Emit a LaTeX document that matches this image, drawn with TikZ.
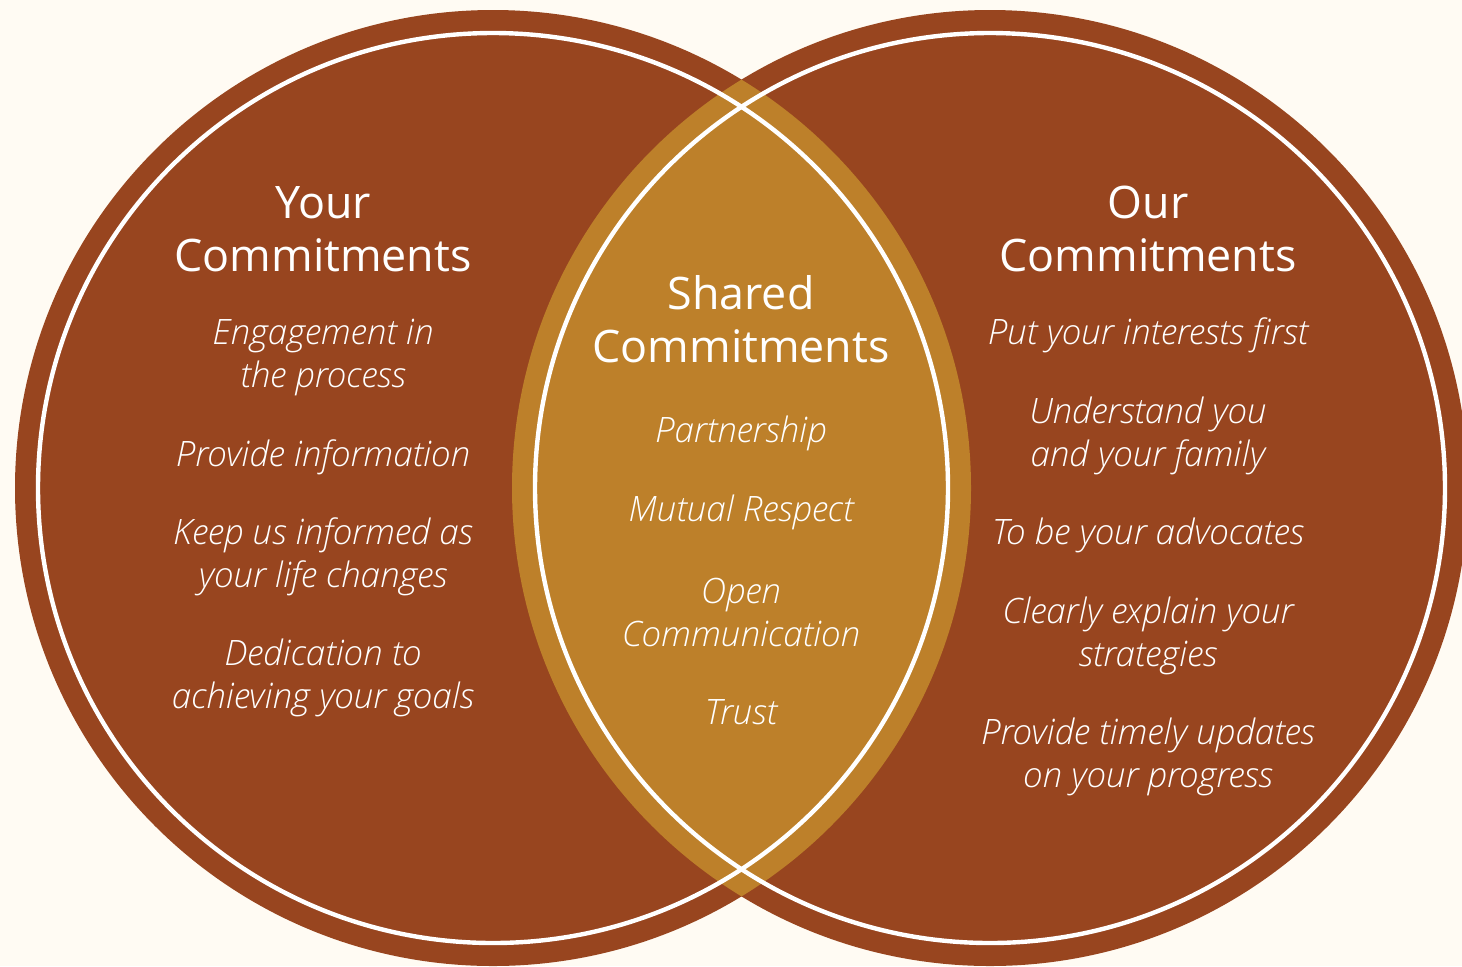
\documentclass[tikz,border=0pt]{standalone}
\usepackage{fontspec}
\setmainfont{Open Sans}[ItalicFont={Open Sans Light Italic}]
\definecolor{bg}{HTML}{FFFBF3}
\definecolor{brown}{HTML}{98451F}
\definecolor{gold}{HTML}{BD802A}
\tikzset{
  title/.style={text=white, align=center, font=\fontsize{22.4}{26.5}\selectfont, inner sep=0pt},
  item/.style={text=white, align=center, font=\fontsize{17.5}{21.5}\itshape\selectfont, inner sep=0pt},
  ring/.style={draw=white, line width=2.2pt}
}
\begin{document}
\begin{tikzpicture}[x=0.5pt,y=-0.5pt]
\fill[bg] (0,0) rectangle (1462,966);
\useasboundingbox (0,0) rectangle (1462,966);
\coordinate (L) at (493,488);
\coordinate (R) at (990,488);
\fill[brown] (L) circle[radius=239pt];
\fill[brown] (R) circle[radius=239pt];
\begin{scope}
  \clip (L) circle[radius=239pt];
  \fill[gold] (R) circle[radius=239pt];
\end{scope}
\draw[ring] (L) circle[radius=227.5pt];
\draw[ring] (R) circle[radius=227.5pt];

% left
\node[title] (lt) at (323,229) {Your\\Commitments};
\node[item] (l1) at (323,357) {Engagement in\\the process};
\node[item] (l2) at (323,457) {Provide information};
\node[item] (l3) at (323,557) {Keep us informed as\\your life changes};
\node[item] (l4) at (323,678) {Dedication to\\achieving your goals};
% middle
\node[title] (mt) at (741,319) {Shared\\Commitments};
\node[item] (m1) at (741,433) {Partnership};
\node[item] (m2) at (741,512) {Mutual Respect};
\node[item] (m3) at (741,612) {Open\\Communication};
\node[item] (m4) at (741,712) {Trust};
% right
\node[title] (rt) at (1148,229) {Our\\Commitments};
\node[item] (r1) at (1148,335) {Put your interests first};
\node[item] (r2) at (1148,436) {Understand you\\and your family};
\node[item] (r3) at (1148,535) {To be your advocates};
\node[item] (r4) at (1148,636) {Clearly explain your\\strategies};
\node[item] (r5) at (1148,757) {Provide timely updates\\on your progress};
\end{tikzpicture}
\end{document}
